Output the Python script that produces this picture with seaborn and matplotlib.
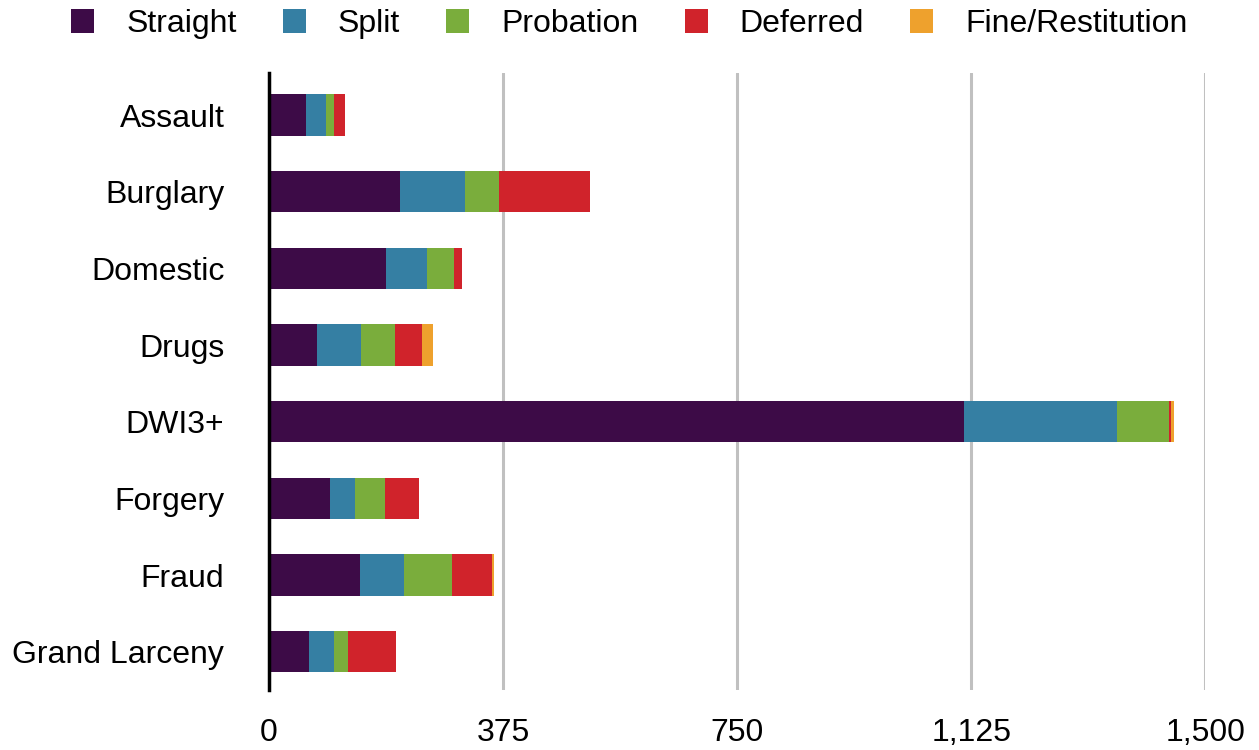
import seaborn as sns
import matplotlib.pyplot as plt
import numpy as np
from matplotlib.patches import Patch

# data
categories = ["Assault", "Burglary", "Domestic", "Drugs", "DWI3+", "Forgery", "Fraud", "Grand Larceny"]
series = ["Straight", "Split", "Probation", "Deferred", "Fine/Restitution"]
straight = [60, 210, 188, 77, 1114, 98, 146, 65]
split = [32, 104, 65, 71, 245, 40, 70, 40]
probation = [13, 55, 43, 54, 82, 48, 77, 22]
deferred = [17, 145, 13, 43, 3, 54, 64, 77]
fine = [0, 0, 0, 18, 5, 0, 3, 0]
colors = ["#3d0b47", "#357fa3", "#7aad3c", "#d0232b", "#eea12d"]
xticks = [0, 375, 750, 1125, 1500]

sns.set_style("white")
plt.rcParams['font.family'] = ['Liberation Sans', 'DejaVu Sans']
plt.rcParams['text.color'] = 'black'

fig = plt.figure(figsize=(12.59, 7.5), dpi=100)
ax = fig.add_axes([0.2135, 0.08, 0.744, 0.8227])

layers = [straight, split, probation, deferred, fine]
cum = np.cumsum(np.array(layers), axis=0)

# draw from the full stack down so smaller cumulative bars sit on top
for i in range(len(series) - 1, -1, -1):
    sns.barplot(x=cum[i], y=categories, orient="h", color=colors[i],
                width=0.54, saturation=1, linewidth=0, ax=ax, zorder=3)

ax.set_xlim(0, 1500)
ax.set_ylim(7.5, -0.55)
ax.set_xticks(xticks)
ax.set_xticklabels([f"{t:,}" for t in xticks])
ax.set_xlabel("")
ax.set_ylabel("")

ax.grid(axis="x", color="#c0c0c0", linewidth=2.2, zorder=0)
ax.grid(axis="y", visible=False)
for s in ["top", "right", "bottom"]:
    ax.spines[s].set_visible(False)
ax.spines["left"].set_color("black")
ax.spines["left"].set_linewidth(2.5)
ax.spines["left"].set_zorder(5)

ax.tick_params(axis="x", length=6, width=2, color="#c0c0c0", pad=14,
               labelsize=23, labelcolor="black")
ax.tick_params(axis="y", length=0, pad=32, labelsize=23, labelcolor="black")

handles = [Patch(facecolor=c, edgecolor="none") for c in colors]
fig.legend(handles, series, loc="center", bbox_to_anchor=(0.5, 0.968), ncol=5,
           frameon=False, fontsize=23, handlelength=0.72, handleheight=0.75,
           handletextpad=1.0, columnspacing=1.45, labelcolor="black")

fig.savefig("out.png", dpi=100)
